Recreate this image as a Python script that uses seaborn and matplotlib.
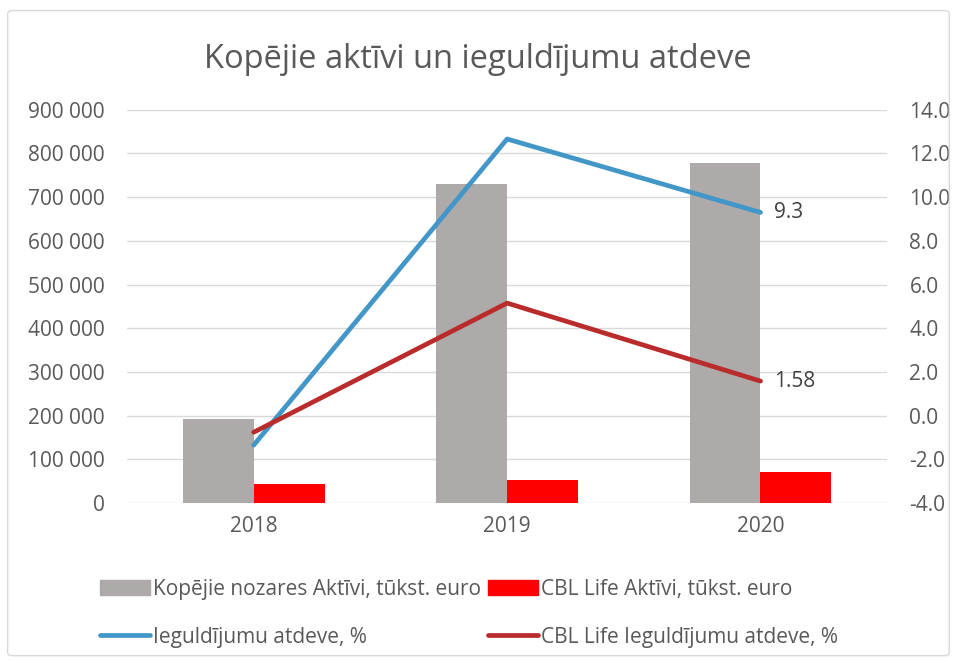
import numpy as np
import pandas as pd
import seaborn as sns
import matplotlib
matplotlib.use("Agg")
import matplotlib.pyplot as plt
from matplotlib.patches import FancyBboxPatch, Patch
from matplotlib.lines import Line2D
from matplotlib.ticker import FuncFormatter, MultipleLocator

years = ["2018", "2019", "2020"]
total_assets = [191700, 730500, 779000]
cbl_assets = [43500, 52500, 70300]
total_return = [-1.35, 12.66, 9.3]
cbl_return = [-0.76, 5.15, 1.58]

series_bars = ["Kopējie nozares Aktīvi, tūkst. euro", "CBL Life Aktīvi, tūkst. euro"]
series_lines = ["Ieguldījumu atdeve, %", "CBL Life Ieguldījumu atdeve, %"]
title = "Kopējie aktīvi un ieguldījumu atdeve"

c_grey = "#AEAAAA"
c_red = "#FF0000"
c_blue = "#4296C8"
c_dred = "#BA2C2C"
txt = "#595959"

sns.set_theme(style="white")
plt.rcParams["font.family"] = ["Open Sans", "DejaVu Sans"]

df = pd.DataFrame({
    "year": years * 2,
    "value": total_assets + cbl_assets,
    "series": [series_bars[0]] * 3 + [series_bars[1]] * 3,
})

fig = plt.figure(figsize=(9.55, 6.61), dpi=100)
fig.patches.append(FancyBboxPatch((0.008, 0.008), 0.986, 0.976, boxstyle="round,pad=0,rounding_size=0.005",
                                  transform=fig.transFigure, fill=False, edgecolor="#D9D9D9", lw=1))
ax = fig.add_axes([0.133, 0.239, 0.796, 0.595])
sns.barplot(data=df, x="year", y="value", hue="series", palette=[c_grey, c_red],
            width=0.56, saturation=1, ax=ax, legend=False, order=years, linewidth=0)
ax.set_xlim(-0.5, 2.5)
ax.set_ylim(0, 900000)
ax.yaxis.set_major_locator(MultipleLocator(100000))
ax.yaxis.set_major_formatter(FuncFormatter(lambda v, p: f"{int(v):,}".replace(",", " ")))
ax.grid(axis="y", color="#D9D9D9", lw=1)
ax.set_axisbelow(True)
for s in ax.spines.values():
    s.set_visible(False)
ax.set_xlabel("")
ax.set_ylabel("")
ax.tick_params(axis="x", length=0, labelsize=15, colors=txt, pad=9)
ax.tick_params(axis="y", length=0, labelsize=15, colors=txt, pad=16)

ax2 = ax.twinx()
pos = np.arange(len(years))
sns.lineplot(x=pos, y=total_return, ax=ax2, color=c_blue, lw=3.4, solid_capstyle="round")
sns.lineplot(x=pos, y=cbl_return, ax=ax2, color=c_dred, lw=3.4, solid_capstyle="round")
ax2.set_ylim(-4, 14)
ax2.yaxis.set_major_locator(MultipleLocator(2))
ax2.yaxis.set_major_formatter(FuncFormatter(lambda v, p: f"{v:.1f}"))
ax2.tick_params(axis="y", length=0, labelsize=15, colors=txt, pad=16)
for s in ax2.spines.values():
    s.set_visible(False)
ax2.set_xlim(-0.5, 2.5)
ax2.annotate(f"{total_return[-1]:.1f}", (pos[-1], total_return[-1]), xytext=(10, 0),
             textcoords="offset points", va="center", ha="left", fontsize=15, color="#404040")
ax2.annotate(f"{cbl_return[-1]:.2f}", (pos[-1], cbl_return[-1]), xytext=(10, 0),
             textcoords="offset points", va="center", ha="left", fontsize=15, color="#404040")

fig.text(0.5, 0.91, title, ha="center", va="center", fontsize=23.5, color=txt)

handles = [Patch(color=c_grey), Line2D([], [], color=c_blue, lw=3.4, solid_capstyle="round"),
           Patch(color=c_red), Line2D([], [], color=c_dred, lw=3.4, solid_capstyle="round")]
labels = [series_bars[0], series_lines[0], series_bars[1], series_lines[1]]
leg = fig.legend(handles, labels, ncol=2, loc="upper left", bbox_to_anchor=(0.105, 0.124),
                 frameon=False, fontsize=15, handlelength=2.4, handleheight=0.7, handletextpad=0.15,
                 columnspacing=0.3, labelspacing=1.28, borderaxespad=0, borderpad=0)
for t in leg.get_texts():
    t.set_color(txt)

fig.savefig("out.png", dpi=100)
